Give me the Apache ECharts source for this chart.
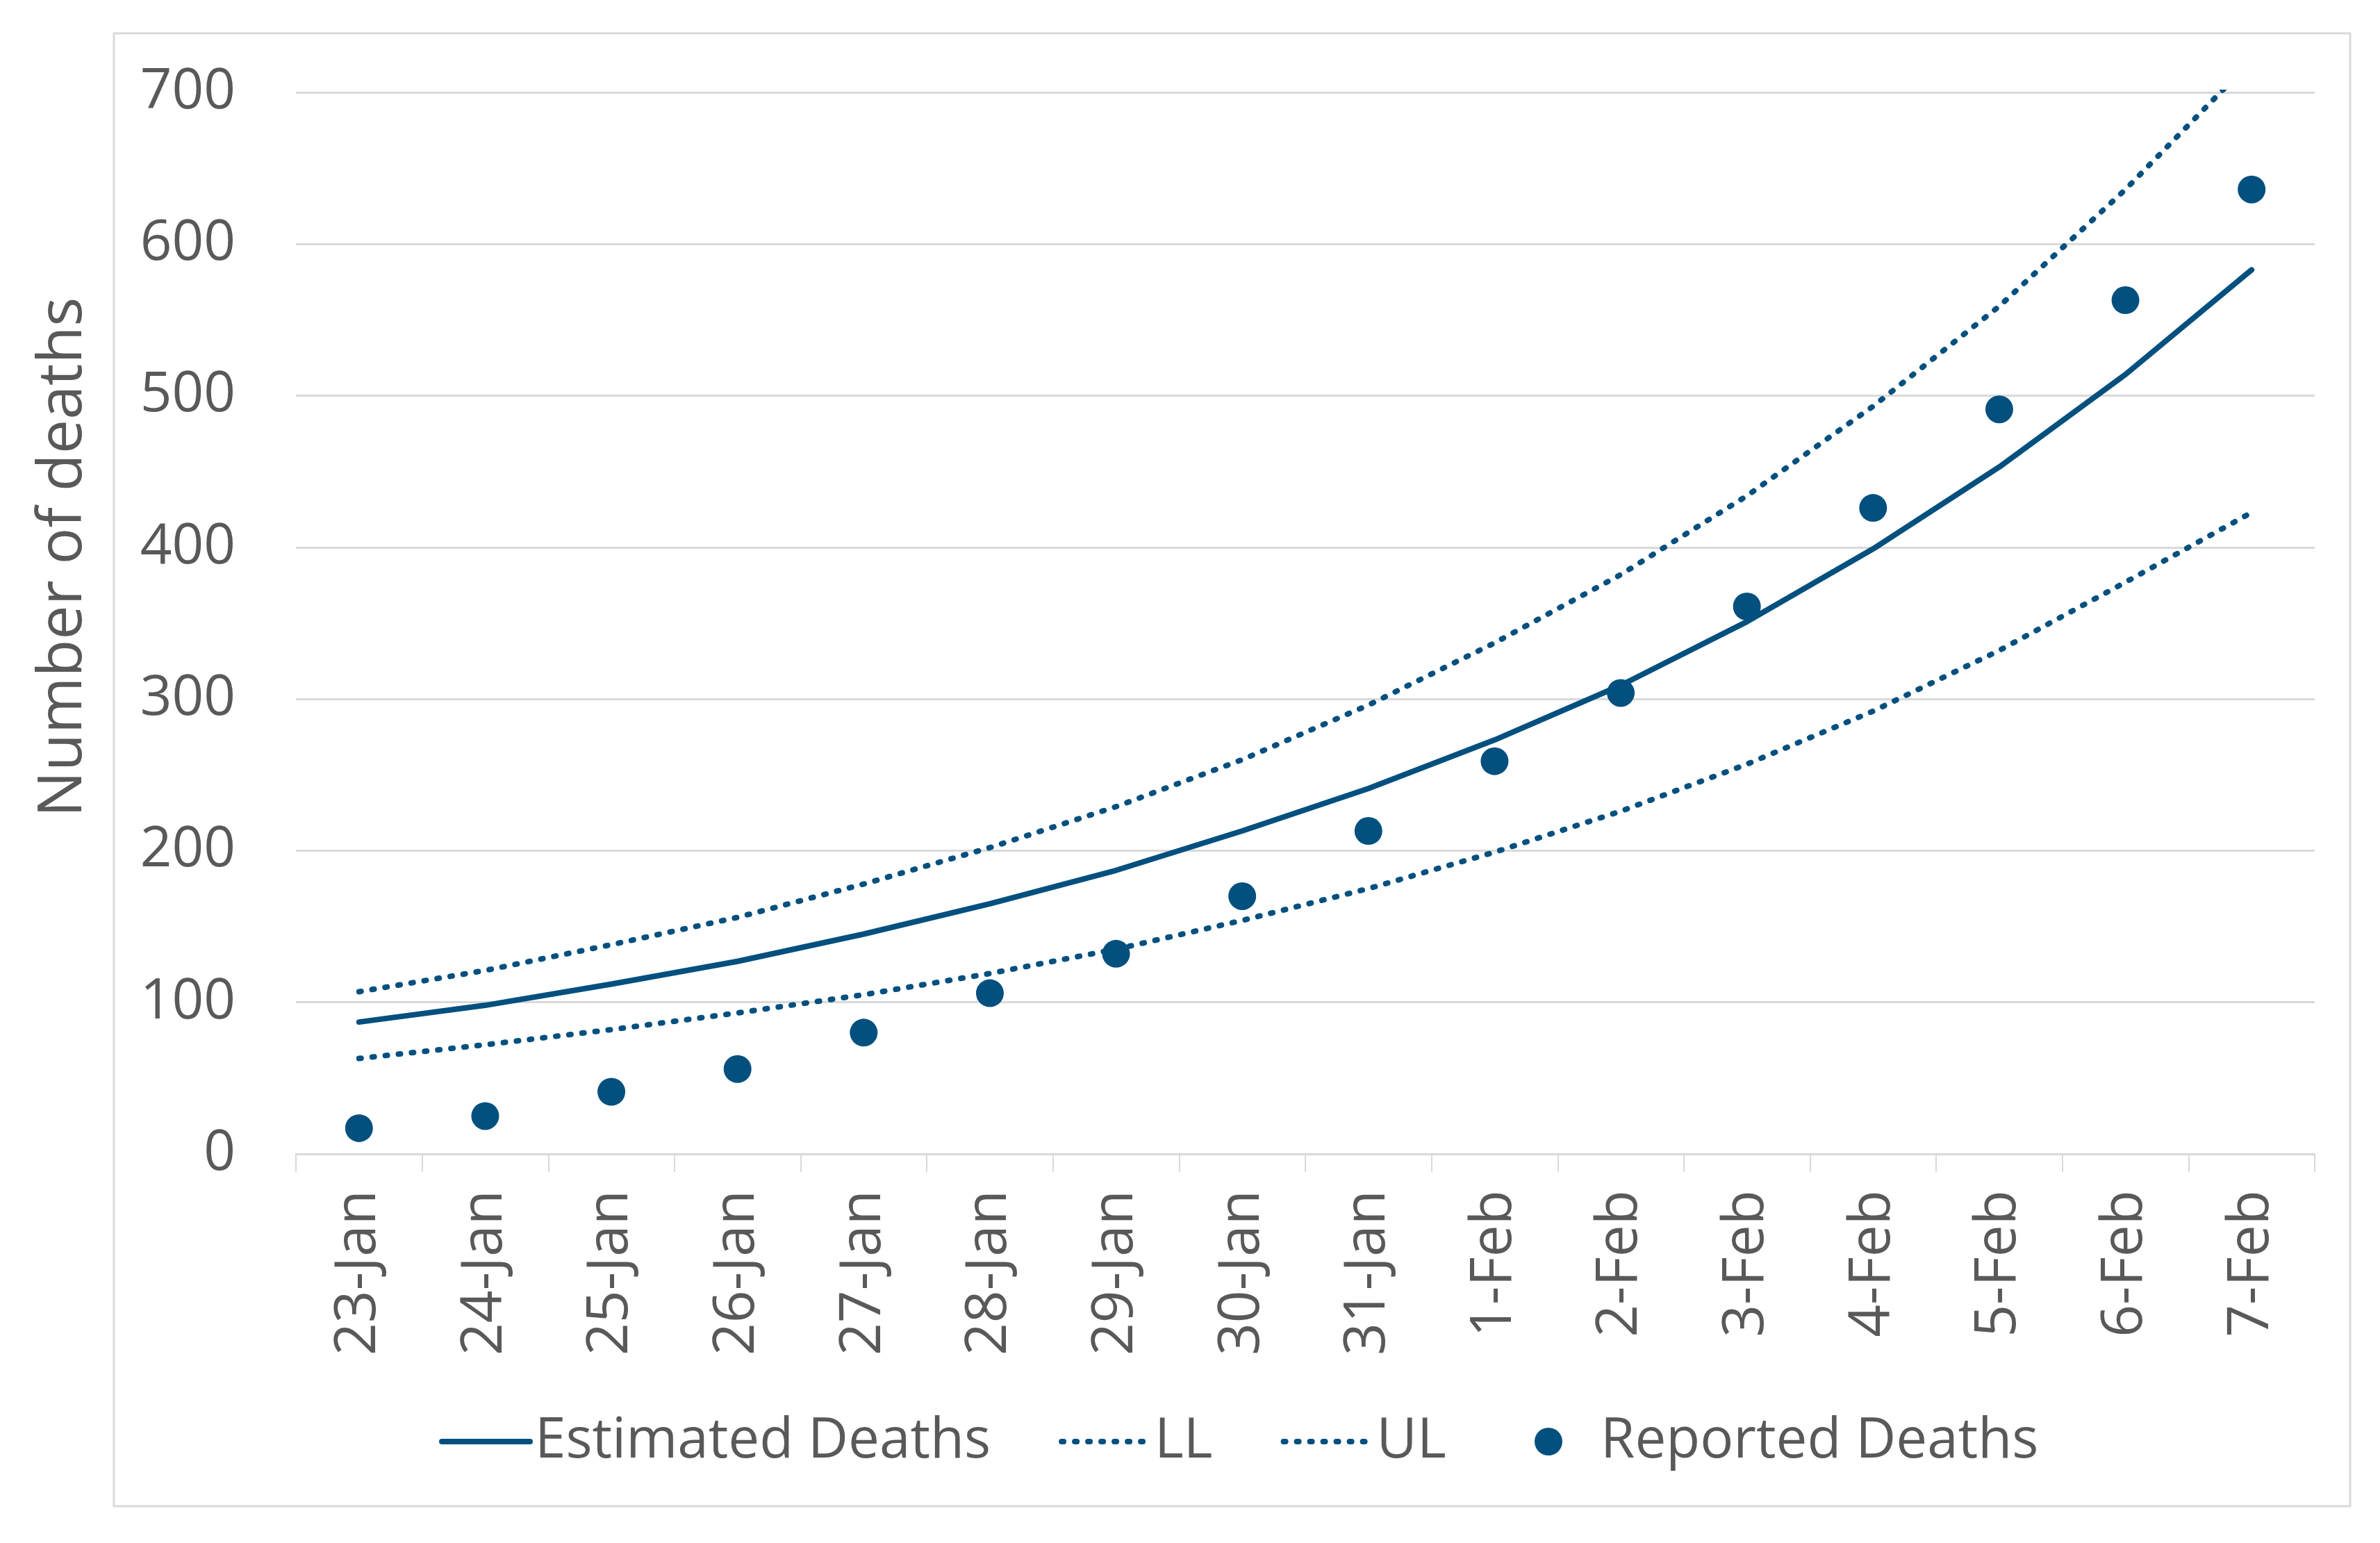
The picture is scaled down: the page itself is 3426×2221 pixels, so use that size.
<!DOCTYPE html>
<html>
<head>
<meta charset="utf-8">
<script src="https://cdn.jsdelivr.net/npm/echarts@6/dist/echarts.min.js"></script>
<style>
  html, body { margin: 0; padding: 0; background: #ffffff; }
  #chart { width: 3426px; height: 2221px; }
</style>
</head>
<body>
<div id="chart"></div>
<script>
// ---- Data ----
const categories = ['23-Jan','24-Jan','25-Jan','26-Jan','27-Jan','28-Jan','29-Jan','30-Jan','31-Jan','1-Feb','2-Feb','3-Feb','4-Feb','5-Feb','6-Feb','7-Feb'];
const estimatedDeaths = [87, 98, 112, 127, 145, 165, 187, 213, 241, 273, 309, 351, 399, 453, 514, 583];
const lowerLimit = [63, 72, 82, 93, 105, 119, 135, 154, 175, 199, 226, 257, 292, 332, 377, 423];
const upperLimit = [107, 121, 138, 156, 178, 202, 229, 260, 296, 337, 382, 434, 493, 559, 636, 721];
const reportedDeaths = [17, 25, 41, 56, 80, 106, 132, 170, 213, 259, 304, 361, 426, 491, 563, 636];
const yTicks = [0, 100, 200, 300, 400, 500, 600, 700];
const yTitle = 'Number of deaths';
const seriesNames = ['Estimated Deaths', 'LL', 'UL', 'Reported Deaths'];

const BLUE = '#03507f';
const GREY_TEXT = '#595959';
const GRID_GREY = '#d9d9d9';
const FONT = 'Open Sans';

const chart = echarts.init(document.getElementById('chart'), null, { renderer: 'canvas' });

const dotted = { width: 8, type: [3, 16], cap: 'round', color: BLUE };
const hiddenSymbol = { opacity: 0 };

chart.setOption({
  backgroundColor: '#ffffff',
  animation: false,
  textStyle: { fontFamily: FONT },
  graphic: [
    {
      type: 'rect',
      shape: { x: 164, y: 48, width: 3219, height: 2120 },
      style: { fill: 'none', stroke: GRID_GREY, lineWidth: 3 },
      silent: true
    },
    {
      type: 'text',
      x: 92, y: 802,
      rotation: Math.PI / 2,
      style: {
        text: yTitle,
        fontFamily: FONT,
        fontSize: 88,
        fill: GREY_TEXT,
        align: 'center',
        verticalAlign: 'middle'
      },
      silent: true
    }
  ],
  grid: { left: 426, right: 94, top: 133, bottom: 560, containLabel: false },
  legend: [
    {
      left: 627,
      top: 2030,
      itemWidth: 127,
      itemHeight: 38,
      itemGap: 98,
      lineStyle: { width: 8 },
      textStyle: { fontFamily: FONT, fontSize: 80, color: GREY_TEXT, padding: [0, 0, 0, 2] },
      data: [
        { name: seriesNames[0], itemStyle: hiddenSymbol },
        { name: seriesNames[1], itemStyle: hiddenSymbol },
        { name: seriesNames[2], itemStyle: hiddenSymbol }
      ]
    },
    {
      left: 2204,
      top: 2030,
      itemWidth: 40,
      itemHeight: 40,
      textStyle: { fontFamily: FONT, fontSize: 80, color: GREY_TEXT, padding: [0, 0, 0, 50] },
      data: [seriesNames[3]]
    }
  ],
  xAxis: {
    type: 'category',
    data: categories,
    boundaryGap: true,
    axisLine: { show: true, lineStyle: { color: GRID_GREY, width: 3 } },
    axisTick: { show: true, interval: 0, alignWithLabel: false, length: 26, lineStyle: { color: GRID_GREY, width: 2 } },
    axisLabel: { interval: 0, rotate: 90, margin: 52, fontFamily: FONT, fontSize: 82, color: GREY_TEXT },
    splitLine: { show: false }
  },
  yAxis: {
    type: 'value',
    min: yTicks[0],
    max: yTicks[yTicks.length - 1],
    interval: 100,
    axisLine: { show: false },
    axisTick: { show: false },
    axisLabel: { margin: 87, fontFamily: FONT, fontSize: 80, color: GREY_TEXT },
    splitLine: { show: true, lineStyle: { color: GRID_GREY, width: 3 } }
  },
  series: [
    {
      name: seriesNames[0],
      type: 'line',
      data: estimatedDeaths,
      symbol: 'none',
      showSymbol: false,
      clip: true,
      itemStyle: { color: BLUE },
      lineStyle: { width: 8, color: BLUE, cap: 'round' },
      z: 3
    },
    {
      name: seriesNames[1],
      type: 'line',
      data: lowerLimit,
      symbol: 'none',
      showSymbol: false,
      clip: true,
      itemStyle: { color: BLUE },
      lineStyle: dotted,
      z: 3
    },
    {
      name: seriesNames[2],
      type: 'line',
      data: upperLimit,
      symbol: 'none',
      showSymbol: false,
      clip: true,
      itemStyle: { color: BLUE },
      lineStyle: dotted,
      z: 3
    },
    {
      name: seriesNames[3],
      type: 'scatter',
      data: reportedDeaths,
      symbol: 'circle',
      symbolSize: 40,
      itemStyle: { color: BLUE, opacity: 1 },
      z: 4
    }
  ]
});
</script>
</body>
</html>
